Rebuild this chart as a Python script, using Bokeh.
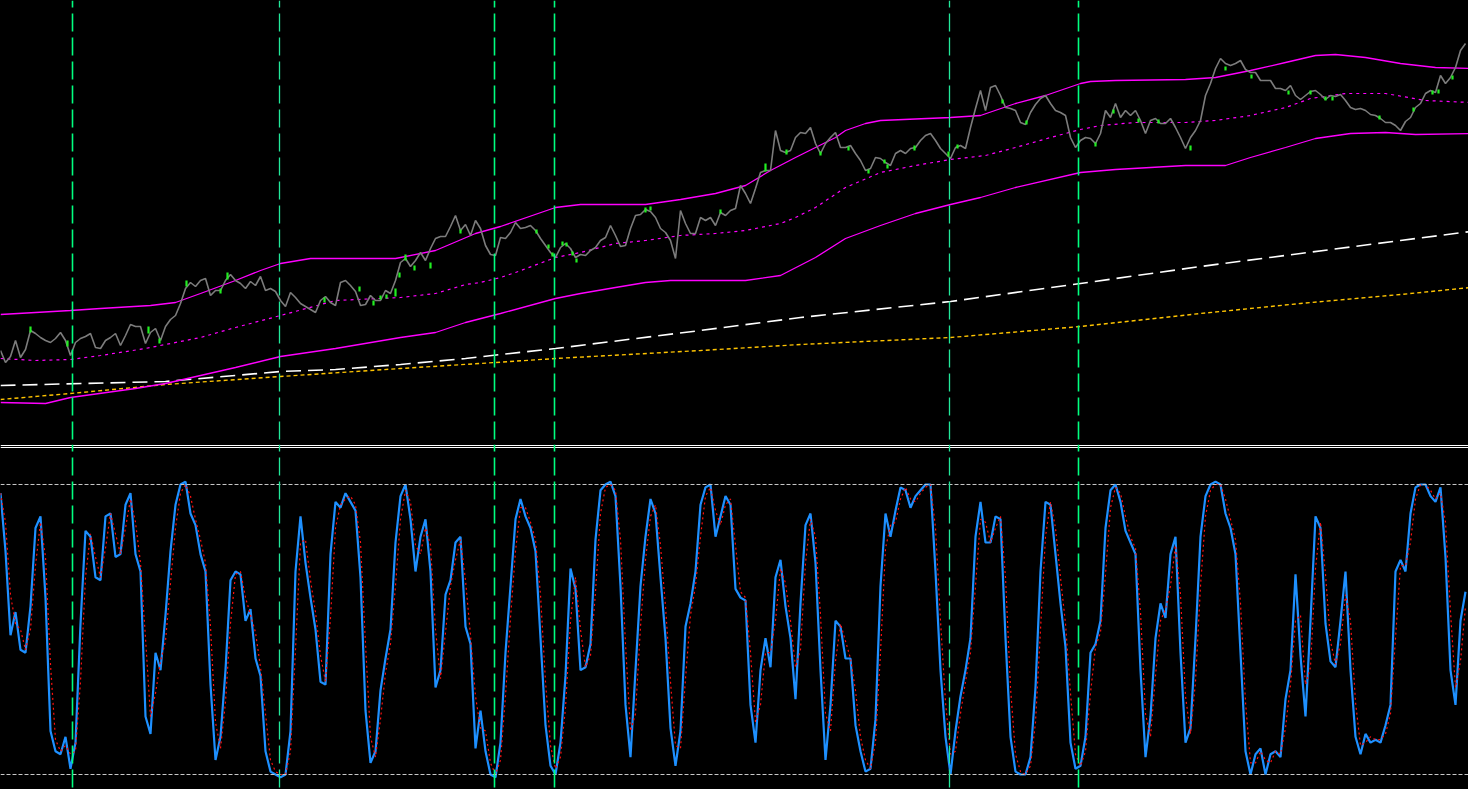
from bokeh.plotting import figure
from bokeh.layouts import column
from bokeh.models import Range1d, Span
from bokeh.embed import file_html
from bokeh.resources import INLINE

# ---------------- data ----------------
# price panel: chart units on an inverted price scale (0 = top of panel, 444 = bottom)
price = [
    350, 362, 356, 340, 357, 349, 330, 333, 337, 340,
    342, 338, 332, 340, 355, 342, 338, 336, 333, 347,
    348, 340, 337, 333, 345, 335, 324, 326, 326, 343,
    332, 328, 340, 326, 319, 315, 303, 288, 282, 286,
    280, 278, 295, 290, 290, 280, 274, 280, 283, 288,
    281, 285, 276, 290, 288, 291, 300, 306, 292, 297,
    303, 306, 309, 312, 300, 296, 302, 305, 282, 280,
    285, 291, 305, 304, 295, 300, 300, 290, 293, 280,
    262, 258, 266, 260, 252, 260, 248, 238, 236, 236,
    226, 215, 230, 224, 235, 220, 228, 245, 254, 255,
    237, 238, 232, 222, 228, 227, 225, 230, 238, 245,
    252, 257, 247, 243, 248, 257, 254, 255, 250, 247,
    240, 237, 225, 235, 246, 245, 228, 215, 214, 209,
    211, 217, 228, 232, 240, 258, 210, 223, 233, 233,
    217, 220, 217, 225, 212, 215, 210, 208, 185, 193,
    203, 188, 172, 170, 170, 130, 150, 152, 150, 137,
    132, 133, 127, 143, 153, 143, 137, 132, 147, 147,
    145, 153, 160, 170, 168, 157, 158, 162, 165, 153,
    150, 153, 148, 147, 140, 135, 133, 140, 148, 153,
    158, 147, 145, 148, 127, 108, 90, 110, 87, 85,
    95, 107, 108, 110, 122, 124, 112, 104, 98, 95,
    103, 110, 112, 115, 137, 147, 140, 137, 138, 143,
    133, 110, 117, 103, 117, 110, 115, 110, 120, 133,
    120, 118, 123, 123, 118, 127, 137, 148, 137, 130,
    120, 95, 83, 68, 58, 63, 65, 63, 60, 69,
    72, 72, 80, 80, 80, 88, 88, 90, 85, 95,
    99, 95, 91, 90, 94, 99, 95, 96, 94, 100,
    107, 109, 108, 110, 114, 115, 118, 122, 122, 125,
    130, 121, 117, 107, 103, 93, 90, 92, 75, 83,
    77, 67, 50, 43,
]

# green signal marks on the price (bar, top, bottom)
mark_bar = [6, 13.4, 29.6, 31.8, 37.2, 44, 45.4, 64.8, 71.8, 74.6, 76, 77.2, 79, 79.8, 81,
            82.8, 86, 92, 107.2, 109.6, 110.4, 112.4, 113.2, 114.4, 115.2, 129, 130, 144, 153,
            157.2, 164, 169.6, 173.6, 176.8, 177.4, 182.8, 189.6, 191.4, 200.4, 205.2, 219,
            222.6, 227.6, 231.6, 238, 245, 250.2, 257.6, 262, 265, 266.4, 275.8, 282.6, 286.4,
            287.6, 290.4]
mark_hi = [326, 340, 326, 338, 280, 288, 272, 297, 286, 300, 295, 294, 288, 272, 254,
           265, 262, 229, 229, 244, 252, 241, 242, 251, 258, 207, 206, 209, 163,
           149, 151, 146, 169, 159, 164, 145, 151, 144, 99, 120, 142,
           109, 118, 119, 145, 66, 74, 90, 90, 96, 96, 115, 107, 90,
           89, 75]
mark_lo = [332, 346, 333, 343, 286, 293, 279, 302, 291, 305, 299, 298, 296, 277, 260,
           270, 268, 233, 233, 248, 256, 245, 246, 255, 262, 212, 210, 213, 171,
           154, 155, 150, 173, 163, 168, 150, 156, 148, 103, 124, 146,
           113, 122, 123, 150, 70, 78, 94, 94, 100, 100, 119, 111, 94,
           93, 79]

# envelope bands (bar, level)
upper_bar = [0, 14, 20, 30, 35, 40, 47, 52, 56, 62, 79, 87, 95, 100, 111, 116, 129, 136, 143,
             149, 154, 159, 163, 167, 169, 173, 176, 190, 196, 203, 209, 216, 218, 223, 237,
             243, 250, 257, 263, 267, 273, 280, 287, 294]
upper_val = [314, 310, 308, 305, 302, 293, 280, 270, 263, 258, 258, 250, 233, 226, 207, 204,
             204, 199, 193, 185, 170, 157, 147, 137, 130, 123, 120, 117, 115, 103, 95, 83, 81,
             80, 79, 77, 70, 62, 55, 54, 57, 63, 67, 68]

mid_bar = [0, 7, 14, 20, 29, 33, 40, 47, 56, 67, 80, 87, 93, 96, 100, 103, 111, 116, 123, 129,
           136, 143, 149, 156, 159, 163, 169, 176, 183, 190, 197, 203, 210, 216, 220, 227, 237,
           243, 250, 257, 262, 269, 277, 285, 294]
mid_val = [358, 360, 359, 355, 348, 344, 337, 327, 315, 300, 297, 293, 284, 282, 277, 272, 257,
           252, 243, 240, 235, 233, 230, 223, 217, 207, 187, 172, 165, 159, 155, 147, 137, 129,
           125, 122, 122, 120, 115, 107, 98, 93, 93, 100, 102]

lower_bar = [0, 9, 14, 27, 33, 40, 47, 56, 67, 80, 87, 93, 100, 111, 116, 123, 129, 134, 149,
             156, 163, 169, 176, 183, 190, 196, 203, 216, 223, 237, 245, 250, 257, 263, 270,
             277, 283, 294]
lower_val = [402, 403, 397, 388, 383, 375, 367, 356, 348, 337, 332, 322, 313, 298, 293, 287,
             282, 280, 280, 275, 257, 238, 225, 213, 204, 197, 187, 172, 169, 165, 165, 157,
             147, 138, 133, 132, 134, 133]

# slow moving averages
ma_white_bar = [0, 33, 47, 56, 67, 80, 93, 100, 111, 140, 160, 190, 216, 240, 260, 280, 294]
ma_white_val = [385, 381, 375, 371, 369, 364, 358, 354, 348, 330, 317, 301, 283, 266, 253, 240, 231]
ma_gold_bar = [0, 14, 33, 56, 80, 99, 111, 140, 160, 190, 216, 240, 260, 280, 294]
ma_gold_val = [399, 393, 384, 376, 368, 362, 358, 350, 344, 337, 326, 313, 303, 294, 287]

# event bars (vertical markers)
event_bars = [14.4, 55.8, 98.8, 110.8, 189.8, 215.6]
event_major = [True, False, True, True, False, True]

# oscillator (0..100) and its signal line
osc = [
    97, 77, 48, 56, 43, 42, 58, 85, 89, 61,
    15, 8, 7, 13, 2, 11, 52, 84, 82, 68,
    67, 89, 90, 75, 76, 93, 97, 76, 70, 20,
    14, 42, 36, 55, 77, 93, 100, 101, 90, 86,
    76, 70, 31, 5, 13, 36, 67, 70, 69, 53,
    57, 40, 34, 8, 1, 0, -1, 0, 15, 70,
    89, 73, 61, 50, 32, 31, 76, 94, 92, 97,
    94, 91, 68, 22, 4, 8, 29, 40, 50, 80,
    96, 100, 88, 70, 82, 88, 70, 30, 36, 62,
    67, 80, 82, 51, 45, 9, 22, 8, 0, -1,
    11, 42, 65, 88, 95, 89, 85, 77, 47, 17,
    3, 0, 11, 34, 71, 64, 36, 37, 45, 81,
    98, 100, 101, 96, 65, 24, 6, 36, 65, 82,
    95, 90, 68, 47, 16, 3, 15, 51, 59, 70,
    93, 99, 100, 82, 89, 96, 93, 64, 61, 60,
    24, 11, 36, 47, 37, 68, 74, 58, 47, 26,
    59, 86, 90, 73, 36, 5, 24, 53, 51, 40,
    40, 17, 8, 1, 2, 19, 65, 90, 82, 91,
    99, 98, 92, 96, 98, 100, 100, 70, 36, 13,
    0, 15, 27, 36, 47, 82, 94, 80, 80, 89,
    88, 47, 13, 1, 0, 0, 6, 30, 70, 94,
    93, 76, 59, 44, 11, 2, 3, 13, 42, 45,
    53, 85, 98, 100, 94, 84, 80, 76, 36, 6,
    20, 47, 59, 54, 76, 82, 42, 11, 16, 47,
    82, 96, 100, 101, 100, 90, 85, 76, 42, 8,
    0, 7, 9, 0, 7, 8, 6, 26, 36, 69,
    41, 20, 53, 89, 85, 52, 39, 37, 53, 70,
    36, 13, 7, 14, 11, 12, 11, 17, 24, 70,
    74, 70, 90, 99, 100, 100, 96, 94, 99, 75,
    36, 24, 53, 63,
]
signal = [
    97, 87, 62, 52, 50, 43, 50, 72, 87, 75,
    38, 12, 8, 10, 7, 8, 32, 68, 83, 75,
    68, 78, 90, 83, 76, 85, 95, 87, 73, 47,
    20, 28, 39, 46, 66, 85, 97, 100, 96, 88,
    81, 73, 51, 18, 9, 25, 52, 69, 70, 61,
    55, 49, 37, 21, 5, 1, 0, 0, 8, 43,
    80, 81, 67, 56, 41, 32, 54, 85, 93, 95,
    96, 93, 80, 45, 13, 6, 19, 35, 45, 65,
    88, 98, 94, 79, 76, 85, 79, 50, 33, 49,
    65, 74, 81, 67, 48, 27, 16, 15, 4, 0,
    5, 27, 54, 77, 92, 92, 87, 81, 62, 32,
    10, 2, 6, 23, 53, 68, 50, 37, 41, 63,
    90, 99, 100, 98, 81, 45, 15, 21, 51, 74,
    89, 93, 79, 58, 32, 10, 9, 33, 55, 65,
    82, 96, 99, 91, 86, 93, 95, 79, 63, 61,
    42, 18, 24, 42, 42, 53, 71, 66, 53, 37,
    43, 73, 88, 82, 55, 21, 15, 39, 52, 46,
    40, 29, 13, 5, 2, 11, 42, 78, 86, 87,
    95, 99, 95, 94, 97, 99, 100, 85, 53, 25,
    7, 8, 21, 32, 42, 65, 88, 87, 80, 85,
    89, 68, 30, 7, 1, 0, 3, 18, 50, 82,
    94, 85, 68, 52, 28, 7, 3, 8, 28, 44,
    49, 69, 92, 99, 97, 89, 82, 78, 56, 21,
    13, 34, 53, 57, 65, 79, 62, 27, 14, 32,
    65, 89, 98, 100, 100, 95, 88, 81, 59, 25,
    4, 4, 8, 5, 4, 8, 7, 16, 31, 53,
    55, 31, 37, 71, 87, 69, 46, 38, 45, 62,
    53, 25, 10, 11, 13, 12, 12, 14, 21, 47,
    72, 72, 80, 95, 100, 100, 98, 95, 97, 87,
    56, 30, 39, 58,
]
osc_levels = [100, 0]

bars = list(range(len(price)))
osc_bars = list(range(len(osc)))

# ---------------- styling ----------------
W = 1468
H_TOP = 444
H_BOT = 345
X_END = 293.6
Y_BOT_LO, Y_BOT_HI = -5.17, 113.79


def base_fig(h, yr):
    f = figure(width=W, height=h, output_backend="svg", toolbar_location=None,
               x_range=Range1d(0, X_END), y_range=yr, min_border=0,
               background_fill_color="#000000", border_fill_color="#000000")
    f.xaxis.visible = False
    f.yaxis.visible = False
    f.grid.visible = False
    f.outline_line_color = None
    return f


def add_events(f):
    for b, major in zip(event_bars, event_major):
        f.add_layout(Span(location=b, dimension="height",
                          line_color="#00FF7F" if major else "#22E89A",
                          line_width=1.6 if major else 1.3,
                          line_dash="18 6", line_dash_offset=11))


# top panel
top = base_fig(H_TOP, Range1d(444, 0))
add_events(top)
top.line(ma_gold_bar, ma_gold_val, line_color="#FFC400", line_width=1.4, line_dash="4 3")
top.line(ma_white_bar, ma_white_val, line_color="#FFFFFF", line_width=1.6, line_dash="15 7")
top.line(lower_bar, lower_val, line_color="#FF00FF", line_width=1.3)
top.line(upper_bar, upper_val, line_color="#FF00FF", line_width=1.3)
top.line(mid_bar, mid_val, line_color="#FF00FF", line_width=1.2, line_dash="3 4")
top.line(bars, price, line_color="#7C7C7C", line_width=1.6)
top.segment(x0=mark_bar, y0=mark_lo, x1=mark_bar, y1=mark_hi,
            line_color="#22EE22", line_width=2.2)

# bottom panel
bot = base_fig(H_BOT, Range1d(Y_BOT_LO, Y_BOT_HI))
units_per_px = (Y_BOT_HI - Y_BOT_LO) / H_BOT
for off in (1.0, 3.0):  # panel separator: two thin white rules at the very top
    bot.add_layout(Span(location=Y_BOT_HI - off * units_per_px, dimension="width",
                        line_color="#FFFFFF", line_width=1))
for lv in osc_levels:
    bot.add_layout(Span(location=lv, dimension="width", line_color="#C8C8C8",
                        line_width=1, line_dash="4 2"))
add_events(bot)
bot.line(osc_bars, osc, line_color="#1E90FF", line_width=2.2)
bot.line(osc_bars, signal, line_color="#FF1010", line_width=1.2, line_dash="2 3")

p = column(top, bot, spacing=0)

html = file_html(p, INLINE)
html = html.replace("</head>", "<style>body{background:#000000;}</style></head>", 1)
open("out.html", "w").write(html)
